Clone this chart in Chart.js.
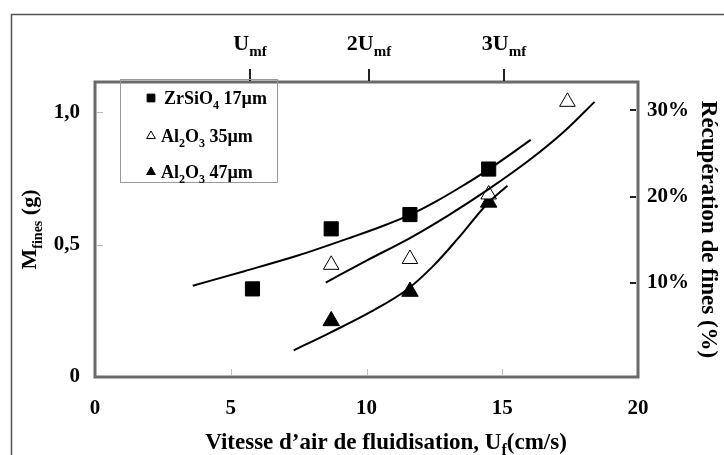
<!DOCTYPE html>
<html>
<head>
<meta charset="utf-8">
<script src="https://cdn.jsdelivr.net/npm/chart.js@4/dist/chart.umd.min.js"></script>
<style>
  body { margin: 0; background: #fff; }
  #wrap { width: 724px; height: 455px; position: relative; }
</style>
</head>
<body>
<div id="wrap"><canvas id="myChart"></canvas></div>
<script>
// measured points
const zrX = [5.8, 8.7, 11.6, 14.5];
const zrY = [0.333, 0.56, 0.614, 0.786];
const al35X = [8.7, 11.6, 14.5, 17.4];
const al35Y = [0.424, 0.446, 0.69, 1.04];
const al47X = [8.7, 11.6, 14.5];
const al47Y = [0.212, 0.323, 0.66];

// fitted curves
const fitZrX = [3.6, 5.5, 7.5, 9.5, 10.5, 11.6, 12.5, 13.5, 14.5, 16.05];
const fitZrY = [0.345, 0.40, 0.46, 0.53, 0.567, 0.613, 0.66, 0.72, 0.785, 0.896];
const fit35X = [8.5, 10, 11.6, 13, 14.5, 16, 17.3, 18.4];
const fit35Y = [0.357, 0.44, 0.525, 0.61, 0.71, 0.82, 0.93, 1.04];
const fit47X = [7.32, 8.67, 10.15, 11.5, 12.48, 13.34, 14.45, 15.19];
const fit47Y = [0.101, 0.168, 0.246, 0.331, 0.422, 0.52, 0.655, 0.723];

const yTicks = [0, 0.5, 1.0];
const y2Ticks = [10, 20, 30];
const topTickX = [5.7, 10.1, 15.05];
const topPrefix = ['', '2', '3'];

const serif = '"Liberation Serif", "Times New Roman", serif';

function pts(xs, ys) {
    return xs.map((x, i) => ({ x: x, y: ys[i] }));
}

// text with subscripts: parts = [[text, isSub], ...]
function richWidth(ctx, parts, size, subSize) {
    let w = 0;
    parts.forEach(p => {
        ctx.font = 'bold ' + (p[1] ? subSize : size) + 'px ' + serif;
        w += ctx.measureText(p[0]).width;
    });
    return w;
}
function drawRich(ctx, parts, x, y, size, subSize, align) {
    let w = richWidth(ctx, parts, size, subSize);
    let cx = align === 'center' ? x - w / 2 : x;
    ctx.textAlign = 'left';
    ctx.textBaseline = 'alphabetic';
    ctx.fillStyle = '#000';
    parts.forEach(p => {
        ctx.font = 'bold ' + (p[1] ? subSize : size) + 'px ' + serif;
        ctx.fillText(p[0], cx, p[1] ? y + size * 0.25 : y);
        cx += ctx.measureText(p[0]).width;
    });
}

const decor = {
    id: 'decor',
    beforeDraw(chart) {
        const c = chart.ctx;
        c.save();
        c.strokeStyle = '#555';
        c.lineWidth = 1.5;
        c.beginPath();
        c.moveTo(11.5, 455);
        c.lineTo(11.5, 14.5);
        c.lineTo(724, 14.5);
        c.stroke();
        c.restore();
    },
    afterDraw(chart) {
        const c = chart.ctx;
        const a = chart.chartArea;
        const sx = chart.scales.x, sy = chart.scales.y, sy2 = chart.scales.y2;
        c.save();
        // plot frame
        c.strokeStyle = '#6a6a6a';
        c.lineWidth = 3;
        c.strokeRect(a.left, a.top, a.right - a.left, a.bottom - a.top);

        // inner ticks
        c.lineWidth = 1;
        c.strokeStyle = '#bbb';
        [5, 10, 15].forEach(v => {
            const px = Math.round(sx.getPixelForValue(v)) + 0.5;
            c.beginPath(); c.moveTo(px, a.bottom - 2); c.lineTo(px, a.bottom - 8); c.stroke();
        });
        yTicks.slice(1).forEach(v => {
            const py = Math.round(sy.getPixelForValue(v)) + 0.5;
            c.beginPath(); c.moveTo(a.left + 2, py); c.lineTo(a.left + 8, py); c.stroke();
        });
        c.strokeStyle = '#222';
        c.lineWidth = 2;
        y2Ticks.forEach(v => {
            const py = Math.round(sy2.getPixelForValue(v));
            c.beginPath(); c.moveTo(a.right - 2, py); c.lineTo(a.right - 8, py); c.stroke();
        });
        // top ticks + labels
        topTickX.forEach((v, i) => {
            const px = Math.round(sx.getPixelForValue(v));
            c.beginPath(); c.moveTo(px, a.top - 1); c.lineTo(px, a.top - 13); c.stroke();
            drawRich(c, [[topPrefix[i] + 'U', false], ['mf', true]], px, 50, 22, 15, 'center');
        });

        // bottom title
        drawRich(c, [['Vitesse d\u2019air de fluidisation, U', false], ['f', true], ['(cm/s)', false]],
            386, 449, 23, 16, 'center');

        // left title (rotated)
        c.save();
        c.translate(36, (a.top + a.bottom) / 2);
        c.rotate(-Math.PI / 2);
        drawRich(c, [['M', false], ['fines', true], [' (g)', false]], 0, 0, 22, 14, 'center');
        c.restore();

        // legend
        c.strokeStyle = '#999';
        c.lineWidth = 1;
        c.strokeRect(120.5, 79.5, 157, 103);
        const items = [
            { style: 'rect', fill: '#000', r: 5.5, y: 98, parts: [['ZrSiO', false], ['4', true], [' 17\u00b5m', false]] },
            { style: 'triangle', fill: '#fff', r: 5, y: 136, parts: [['Al', false], ['2', true], ['O', false], ['3', true], [' 35\u00b5m', false]] },
            { style: 'triangle', fill: '#000', r: 5, y: 172, parts: [['Al', false], ['2', true], ['O', false], ['3', true], [' 47\u00b5m', false]] }
        ];
        items.forEach((it, i) => {
            c.fillStyle = it.fill;
            c.strokeStyle = '#000';
            c.lineWidth = 1;
            Chart.helpers.drawPoint(c, { pointStyle: it.style, radius: it.r, borderWidth: 1 }, 151, it.y);
            drawRich(c, it.parts, i === 0 ? 164 : 161, it.y + 6, 18, 12, 'left');
        });
        c.restore();
    }
};

const ctx = document.getElementById('myChart');
const myChart = new Chart(ctx, {
    type: 'scatter',
    data: {
        datasets: [
            {
                label: 'fit ZrSiO4',
                data: pts(fitZrX, fitZrY),
                showLine: true,
                borderColor: '#000',
                borderWidth: 2,
                pointRadius: 0,
                cubicInterpolationMode: 'monotone'
            },
            {
                label: 'fit Al2O3 35',
                data: pts(fit35X, fit35Y),
                showLine: true,
                borderColor: '#000',
                borderWidth: 2,
                pointRadius: 0,
                cubicInterpolationMode: 'monotone'
            },
            {
                label: 'fit Al2O3 47',
                data: pts(fit47X, fit47Y),
                showLine: true,
                borderColor: '#000',
                borderWidth: 2,
                pointRadius: 0,
                cubicInterpolationMode: 'monotone'
            },
            {
                label: 'ZrSiO4 17µm',
                data: pts(zrX, zrY),
                pointStyle: 'rect',
                pointRadius: 10,
                backgroundColor: '#000',
                borderColor: '#000',
                borderWidth: 1
            },
            {
                label: 'Al2O3 35µm',
                data: pts(al35X, al35Y),
                pointStyle: 'triangle',
                pointRadius: 9,
                backgroundColor: '#fff',
                borderColor: '#000',
                borderWidth: 1
            },
            {
                label: 'Al2O3 47µm',
                data: pts(al47X, al47Y),
                pointStyle: 'triangle',
                pointRadius: 9.5,
                backgroundColor: '#000',
                borderColor: '#000',
                borderWidth: 1
            }
        ]
    },
    options: {
        maintainAspectRatio: false,
        responsive: true,
        animation: false,
        layout: { padding: { top: 82, left: 0, right: 0, bottom: 0 } },
        plugins: {
            legend: { display: false },
            tooltip: { enabled: false }
        },
        scales: {
            x: {
                type: 'linear',
                min: 0,
                max: 20,
                ticks: {
                    stepSize: 5,
                    color: '#000',
                    padding: 19,
                    font: { family: serif, weight: 'bold', size: 21 }
                },
                grid: { display: false, drawTicks: false },
                border: { display: false },
                afterFit: s => { s.height = 78; }
            },
            y: {
                min: 0,
                max: 1.115,
                afterBuildTicks: s => { s.ticks = yTicks.map(v => ({ value: v })); },
                ticks: {
                    color: '#000',
                    padding: 15,
                    font: { family: serif, weight: 'bold', size: 21 },
                    callback: v => v === 0 ? '0' : v.toFixed(1).replace('.', ',')
                },
                grid: { display: false, drawTicks: false },
                border: { display: false },
                afterFit: s => { s.width = 95; }
            },
            y2: {
                position: 'right',
                min: -0.93,
                max: 33.3,
                afterBuildTicks: s => { s.ticks = y2Ticks.map(v => ({ value: v })); },
                ticks: {
                    color: '#000',
                    padding: 9,
                    font: { family: serif, weight: 'bold', size: 21 },
                    callback: v => v + '%'
                },
                title: {
                    display: true,
                    text: 'Récupération de fines (%)',
                    color: '#000',
                    padding: 2,
                    font: { family: serif, weight: 'bold', size: 23 }
                },
                grid: { display: false, drawTicks: false },
                border: { display: false },
                afterFit: s => { s.width = 86; }
            }
        }
    },
    plugins: [decor]
});
</script>
</body>
</html>
